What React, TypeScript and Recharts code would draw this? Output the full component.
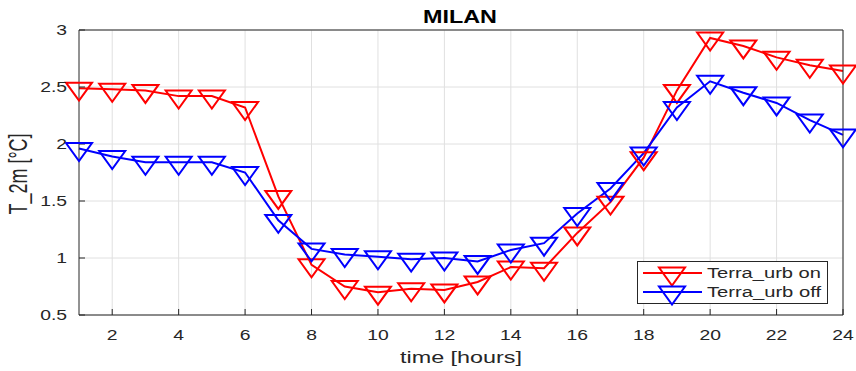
import React from 'react';
import {
  LineChart,
  Line,
  XAxis,
  YAxis,
  CartesianGrid,
} from 'recharts';

const hours = [1, 2, 3, 4, 5, 6, 7, 8, 9, 10, 11, 12, 13, 14, 15, 16, 17, 18, 19, 20, 21, 22, 23, 24];
const terraUrbOn = [2.49, 2.48, 2.47, 2.42, 2.42, 2.32, 1.54, 0.94, 0.75, 0.7, 0.73, 0.72, 0.79, 0.92, 0.91, 1.22, 1.49, 1.88, 2.47, 2.93, 2.86, 2.76, 2.69, 2.64];
const terraUrbOff = [1.96, 1.89, 1.84, 1.84, 1.84, 1.75, 1.33, 1.08, 1.03, 1.01, 0.99, 1.0, 0.97, 1.07, 1.13, 1.39, 1.61, 1.92, 2.32, 2.55, 2.45, 2.36, 2.21, 2.08];
const xTicks = [2, 4, 6, 8, 10, 12, 14, 16, 18, 20, 22, 24];
const yTicks = [0.5, 1, 1.5, 2, 2.5, 3];

const chartData = hours.map((h, i) => ({ hour: h, on: terraUrbOn[i], off: terraUrbOff[i] }));

const FONT = '"Liberation Sans", Arial, sans-serif';
const TEXT = '#262626';
const STRETCH = 1.38;

// MATLAB style 'v' marker, anchored near its centroid
const Triangle = (props: any) => {
  const { cx, cy, stroke } = props;
  if (cx == null || cy == null) return null;
  const w = 26;
  const top = cy - 5.5;
  const apex = cy + 12.5;
  return (
    <polygon
      points={`${cx - w / 2},${top} ${cx + w / 2},${top} ${cx},${apex}`}
      fill="none"
      stroke={stroke}
      strokeWidth={2}
    />
  );
};

const XTick = (props: any) => {
  const { x, y, payload } = props;
  return (
    <text transform={`translate(${x},${y}) scale(${STRETCH},1)`} textAnchor="middle" fontFamily={FONT} fontSize={14} fill={TEXT}>
      {payload.value}
    </text>
  );
};

const YTick = (props: any) => {
  const { x, y, payload } = props;
  return (
    <text transform={`translate(${x},${y + 5}) scale(${STRETCH},1)`} textAnchor="end" fontFamily={FONT} fontSize={14} fill={TEXT}>
      {payload.value}
    </text>
  );
};

const legendItems = [
  { label: 'Terra_urb on', color: '#ff0000' },
  { label: 'Terra_urb off', color: '#0000ff' },
];

export default function App() {
  return (
    <div style={{ position: 'absolute', left: 0, top: 0, width: 856, height: 371, background: '#fff' }}>
      <LineChart width={856} height={371} data={chartData} margin={{ top: 29, right: 12, bottom: 16, left: 0 }}>
        <CartesianGrid stroke="#e0e0e0" strokeWidth={1} horizontalValues={yTicks} verticalValues={xTicks} />
        <XAxis
          dataKey="hour"
          type="number"
          domain={[1, 24]}
          ticks={xTicks}
          height={40}
          axisLine={{ stroke: TEXT }}
          tickLine={{ stroke: TEXT }}
          tickSize={-6}
          tickMargin={31}
          tick={<XTick />}
          interval={0}
        />
        <XAxis
          xAxisId="top"
          orientation="top"
          dataKey="hour"
          type="number"
          domain={[1, 24]}
          ticks={xTicks}
          height={1}
          axisLine={{ stroke: TEXT }}
          tickLine={{ stroke: TEXT }}
          tickSize={-6}
          tick={false}
          interval={0}
        />
        <YAxis
          type="number"
          domain={[0.5, 3]}
          ticks={yTicks}
          width={79}
          axisLine={{ stroke: TEXT }}
          tickLine={{ stroke: TEXT }}
          tickSize={-6}
          tickMargin={18}
          tick={<YTick />}
          interval={0}
        />
        <YAxis
          yAxisId="right"
          orientation="right"
          type="number"
          domain={[0.5, 3]}
          ticks={yTicks}
          width={1}
          axisLine={{ stroke: TEXT }}
          tickLine={{ stroke: TEXT }}
          tickSize={-6}
          tick={false}
          interval={0}
        />
        <Line
          type="linear"
          dataKey="on"
          stroke="#ff0000"
          strokeWidth={2}
          dot={<Triangle />}
          activeDot={false}
          isAnimationActive={false}
        />
        <Line
          type="linear"
          dataKey="off"
          stroke="#0000ff"
          strokeWidth={2}
          dot={<Triangle />}
          activeDot={false}
          isAnimationActive={false}
        />
      </LineChart>

      {/* title, axis labels and legend on top of the chart */}
      <svg width={856} height={371} style={{ position: 'absolute', left: 0, top: 0, pointerEvents: 'none' }}>
        <text x={460} y={23} textAnchor="middle" fontFamily={FONT} fontWeight="bold" fontSize={18} fill="#000" textLength={74} lengthAdjust="spacingAndGlyphs">
          MILAN
        </text>
        <text x={461} y={363} textAnchor="middle" fontFamily={FONT} fontSize={16} fill={TEXT} textLength={122} lengthAdjust="spacingAndGlyphs">
          time [hours]
        </text>
        <text transform={`translate(27,174) scale(${STRETCH},1) rotate(-90)`} textAnchor="middle" fontFamily={FONT} fontSize={18} fill={TEXT}>
          T_2m [°C]
        </text>

        <rect x={637.5} y={261.5} width={190} height={42} fill="#fff" stroke={TEXT} strokeWidth={1} />
        {legendItems.map((item, i) => {
          const yy = 273 + i * 19;
          return (
            <g key={item.label}>
              <line x1={643} x2={702} y1={yy} y2={yy} stroke={item.color} strokeWidth={2} />
              <Triangle cx={672} cy={yy} stroke={item.color} />
              <text x={707} y={yy + 5} fontFamily={FONT} fontSize={14} fill={TEXT} textLength={114} lengthAdjust="spacingAndGlyphs">
                {item.label}
              </text>
            </g>
          );
        })}
      </svg>
    </div>
  );
}
